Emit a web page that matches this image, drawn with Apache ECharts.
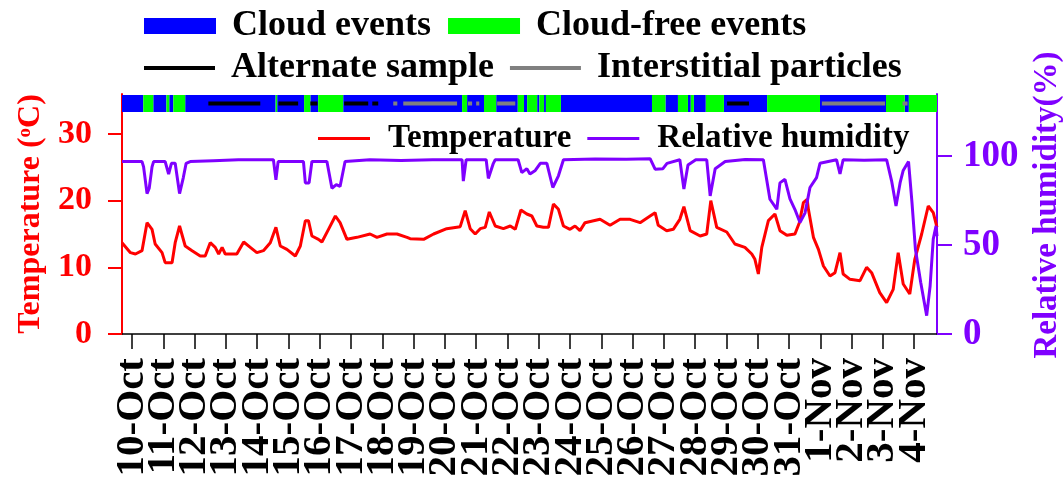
<!DOCTYPE html>
<html>
<head>
<meta charset="utf-8">
<script src="https://cdn.jsdelivr.net/npm/echarts@6/dist/echarts.min.js"></script>
<style>html,body{margin:0;padding:0;background:#fff}#c{width:1063px;height:479px}</style>
</head>
<body>
<div id="c"></div>
<script>
// Day-of-October (1-Nov = 32)
const dayTicks = [10,11,12,13,14,15,16,17,18,19,20,21,22,23,24,25,26,27,28,29,30,31,32,33,34,35];
const tickLabels = ['10-Oct','11-Oct','12-Oct','13-Oct','14-Oct','15-Oct','16-Oct','17-Oct','18-Oct','19-Oct','20-Oct','21-Oct','22-Oct','23-Oct','24-Oct','25-Oct','26-Oct','27-Oct','28-Oct','29-Oct','30-Oct','31-Oct','1-Nov','2-Nov','3-Nov','4-Nov'];
const tempTicks = [0,10,20,30];
const rhTicks = [0,50,100];

const tempTime = [9.68,9.95,10.11,10.32,10.48,10.64,10.74,10.96,11.06,11.28,
11.38,11.52,11.70,11.92,12.18,12.34,12.50,12.66,12.77,12.88,
12.98,13.35,13.57,13.78,13.99,14.20,14.42,14.60,14.74,14.95,
15.22,15.38,15.54,15.64,15.75,15.96,16.07,16.28,16.50,16.65,
16.87,17.19,17.61,17.83,18.15,18.47,18.79,18.89,19.32,19.64,
20.06,20.49,20.65,20.81,20.97,21.13,21.29,21.42,21.61,21.87,
22.09,22.25,22.43,22.62,22.78,22.94,23.15,23.31,23.47,23.63,
23.79,24.00,24.16,24.32,24.48,24.96,25.28,25.60,25.92,26.24,
26.56,26.72,26.82,27.09,27.30,27.51,27.64,27.84,28.16,28.37,
28.50,28.69,29.01,29.27,29.59,29.81,29.91,30.02,30.13,30.34,
30.55,30.71,30.93,31.19,31.33,31.46,31.58,31.62,31.78,31.94,
32.10,32.31,32.47,32.63,32.73,32.95,33.27,33.48,33.64,33.90,
34.12,34.33,34.49,34.65,34.86,35.02,35.24,35.45,35.61,35.73];
const tempValues = [13.7,12.2,12.0,12.5,16.7,15.7,13.5,12.2,10.7,10.7,
13.7,16.2,13.2,12.5,11.7,11.7,13.7,13.0,12.0,13.0,
12.0,12.0,13.8,13.0,12.2,12.5,13.7,16.0,13.2,12.7,
11.7,13.2,17.0,17.0,14.7,14.2,13.8,15.7,17.7,16.7,
14.2,14.5,15.0,14.5,15.0,15.0,14.5,14.3,14.2,15.0,
15.8,16.1,18.5,15.8,15.0,15.8,16.0,18.3,16.2,15.8,
16.2,15.7,18.6,18.0,17.7,16.2,16.0,16.0,19.5,18.7,
16.2,15.7,16.2,15.5,16.7,17.2,16.3,17.2,17.2,16.7,
17.7,18.2,16.3,15.5,15.7,17.2,19.1,15.5,14.7,15.0,
20.0,16.0,15.3,13.5,13.0,12.0,11.2,9.0,13.0,17.0,
18.0,15.5,14.8,15.0,16.7,19.7,20.2,18.7,14.5,12.7,
10.2,8.7,9.2,12.2,9.0,8.2,8.0,10.0,9.2,6.2,
4.7,6.7,12.2,7.5,6.0,11.2,15.0,19.2,18.2,16.0];

const rhTime = [9.68,10.32,10.37,10.48,10.55,10.64,10.69,11.06,11.17,11.26,
11.38,11.52,11.64,11.73,11.86,12.60,13.40,14.52,14.60,14.67,15.48,15.54,
15.66,15.75,16.23,16.39,16.53,16.65,16.81,17.60,18.60,19.60,20.55,20.59,20.68,
21.32,21.39,21.55,21.61,22.34,22.46,22.62,22.72,22.89,23.05,
23.26,23.45,23.63,23.79,24.80,25.80,26.56,26.72,26.97,27.10,27.51,27.64,
27.77,28.02,28.37,28.48,28.64,28.96,29.60,30.18,30.39,30.61,30.71,
30.87,31.03,31.19,31.35,31.51,31.67,31.88,31.99,32.52,32.63,
32.73,33.40,34.12,34.28,34.42,34.55,34.65,34.82,34.93,35.04,35.21,
35.40,35.51,35.61,35.70,35.73];
const rhValues = [97,97,94,79,82,94,97,97,90,96,
96,79,88,96,97,97.5,98,98,86.7,97,97,85,
85,97,97,82,84,83,97,98,97.6,98,98,86,98,
98,87.5,96,98,98,90.8,93,90,92,96,
96,82.4,89,98,98.5,98.3,98.6,92.7,93,96,98,81.5,
95,98,98,77.7,93,97,98.2,98,75.8,70.2,85,
87,76,70,62.7,68,82.4,88,96,98,90,
98,97.8,98,86,72,85,92,97,74,47.7,29,
10.3,27,53.4,60.8,55];

const cloudEvents = [[9.68,10.36],[10.68,11.10],[11.19,11.32],[11.70,14.59],[14.64,15.50],[15.70,15.95],[16.75,20.55],[20.71,21.25],[21.64,22.33],[22.53,22.63],[22.95,23.02],[23.17,23.23],[23.71,26.62],[27.05,27.45],[27.77,27.86],[27.96,28.34],[28.92,30.30],[31.99,34.10],[34.70,34.83]];
const cloudFreeEvents = [[10.36,10.68],[11.10,11.19],[11.32,11.70],[14.59,14.64],[15.50,15.70],[15.95,16.75],[20.55,20.71],[21.25,21.64],[22.33,22.53],[22.63,22.95],[23.02,23.17],[23.23,23.71],[26.62,27.05],[27.45,27.77],[27.86,27.96],[28.34,28.92],[30.30,31.99],[34.10,34.70],[34.83,35.73]];
const alternateSample = [[12.44,14.10],[14.68,15.31],[15.70,15.93],[16.78,17.55],[17.68,17.87],[29.02,29.72]];
const interstitialParticles = [[18.35,18.48],[18.67,20.39],[20.74,20.87],[21.00,21.10],[21.67,22.25],[32.05,34.07],[34.63,34.79]];

const X_MIN = 9.68, X_MAX = 35.73;
const FONT = 'Liberation Serif';
const RED = '#FF0000', PURPLE = '#7F00FF', BLUE = '#0000FF', GREEN = '#00FF00', GRAY = '#808080';

const zip = (a, b) => a.map((v, i) => [v, b[i]]);
// split tick labels over two label-only axes so that neighbouring rotated labels never get hidden
const evenDays = dayTicks.filter((d, i) => i % 2 === 0);
const oddDays = dayTicks.filter((d, i) => i % 2 === 1);
const dayLabel = v => tickLabels[dayTicks.indexOf(Math.round(v))];

function bandRender(color) {
  return function (params, api) {
    const p0 = api.coord([api.value(0), 1]);
    const p1 = api.coord([api.value(1), 0]);
    return { type: 'rect', shape: { x: p0[0], y: p0[1], width: p1[0] - p0[0], height: p1[1] - p0[1] }, style: { fill: color } };
  };
}
function stripRender(color) {
  return function (params, api) {
    const p0 = api.coord([api.value(0), 0.5]);
    const p1 = api.coord([api.value(1), 0.5]);
    return { type: 'rect', shape: { x: p0[0], y: p0[1] - 2, width: p1[0] - p0[0], height: 4 }, style: { fill: color } };
  };
}

const xLabelStyle = { rotate: 90, margin: 24, fontSize: 41, fontFamily: FONT, fontWeight: 'bold', color: '#000',
  showMinLabel: true, showMaxLabel: true, hideOverlap: false, formatter: dayLabel };

const chart = echarts.init(document.getElementById('c'), null, { renderer: 'canvas' });
const legendText = { fontFamily: FONT, fontWeight: 'bold', color: '#000' };
chart.setOption({
  animation: false,
  backgroundColor: '#fff',
  grid: [
    { left: 122, right: 126, top: 94, bottom: 145, outerBoundsMode: 'none', containLabel: false },
    { left: 122, right: 126, top: 95, height: 17, outerBoundsMode: 'none', containLabel: false }
  ],
  legend: [
    { left: 144, top: 8, padding: 0, itemWidth: 72, itemHeight: 16, itemGap: 17, selectedMode: false,
      textStyle: Object.assign({ fontSize: 36, padding: [0, 0, 0, 11] }, legendText),
      data: [{ name: 'Cloud events', icon: 'rect' }, { name: 'Cloud-free events', icon: 'rect' }] },
    { left: 144, top: 50, padding: 0, itemWidth: 71, itemHeight: 4, itemGap: 16, selectedMode: false,
      textStyle: Object.assign({ fontSize: 36, padding: [0, 0, 0, 11] }, legendText),
      data: [{ name: 'Alternate sample', icon: 'rect' }, { name: 'Interstitial particles', icon: 'rect' }] },
    { left: 318, top: 122, padding: 0, itemWidth: 52, itemHeight: 3, itemGap: 16, selectedMode: false,
      textStyle: Object.assign({ fontSize: 33, padding: [0, 0, 0, 13] }, legendText),
      data: [{ name: 'Temperature', icon: 'rect' }, { name: 'Relative humidity', icon: 'rect' }] }
  ],
  xAxis: [
    { type: 'value', gridIndex: 0, min: X_MIN, max: X_MAX, position: 'bottom',
      axisLine: { show: true, onZero: false, lineStyle: { color: '#000', width: 1.5 } },
      axisTick: { show: true, customValues: dayTicks, length: 15, lineStyle: { color: '#000', width: 1.5 } },
      axisLabel: Object.assign({ customValues: evenDays }, xLabelStyle),
      splitLine: { show: false } },
    { type: 'value', gridIndex: 1, min: X_MIN, max: X_MAX, show: false },
    { type: 'value', gridIndex: 0, min: X_MIN, max: X_MAX, position: 'bottom', offset: 0,
      axisLine: { show: false, onZero: false }, axisTick: { show: false },
      axisLabel: Object.assign({ customValues: oddDays }, xLabelStyle),
      splitLine: { show: false } }
  ],
  yAxis: [
    { type: 'value', gridIndex: 0, position: 'left', min: 0, max: 36,
      axisLine: { show: true, lineStyle: { color: RED, width: 2 } },
      axisTick: { show: true, customValues: tempTicks, length: 14, lineStyle: { color: RED, width: 2 } },
      axisLabel: { customValues: tempTicks, margin: 30, fontSize: 34, fontFamily: FONT, fontWeight: 'bold', color: RED },
      splitLine: { show: false },
      name: 'Temperature ({sup|o}C)', nameLocation: 'middle', nameRotate: 90, nameGap: 66,
      nameTextStyle: { fontSize: 32, fontFamily: FONT, fontWeight: 'bold', color: RED,
        rich: { sup: { fontSize: 19, fontFamily: FONT, fontWeight: 'bold', color: RED, verticalAlign: 'top', padding: [0, 0, 12, 0] } } } },
    { type: 'value', gridIndex: 0, position: 'right', min: 0, max: 135,
      axisLine: { show: true, lineStyle: { color: PURPLE, width: 2 } },
      axisTick: { show: true, customValues: rhTicks, length: 15, lineStyle: { color: PURPLE, width: 2 } },
      axisLabel: { customValues: rhTicks, margin: 26, fontSize: 37, fontFamily: FONT, fontWeight: 'bold', color: PURPLE },
      splitLine: { show: false },
      name: 'Relative humidity(%)', nameLocation: 'middle', nameRotate: 90, nameGap: 94,
      nameTextStyle: { fontSize: 33, fontFamily: FONT, fontWeight: 'bold', color: PURPLE, padding: [0, 0, 0, 18] } },
    { type: 'value', gridIndex: 1, min: 0, max: 1, show: false }
  ],
  series: [
    { name: 'Cloud events', type: 'custom', xAxisIndex: 1, yAxisIndex: 2, itemStyle: { color: BLUE },
      renderItem: bandRender(BLUE), encode: { x: [0, 1] }, data: cloudEvents, silent: true },
    { name: 'Cloud-free events', type: 'custom', xAxisIndex: 1, yAxisIndex: 2, itemStyle: { color: GREEN },
      renderItem: bandRender(GREEN), encode: { x: [0, 1] }, data: cloudFreeEvents, silent: true },
    { name: 'Alternate sample', type: 'custom', xAxisIndex: 1, yAxisIndex: 2, itemStyle: { color: '#000' }, z: 5,
      renderItem: stripRender('#000'), encode: { x: [0, 1] }, data: alternateSample, silent: true },
    { name: 'Interstitial particles', type: 'custom', xAxisIndex: 1, yAxisIndex: 2, itemStyle: { color: GRAY }, z: 5,
      renderItem: stripRender(GRAY), encode: { x: [0, 1] }, data: interstitialParticles, silent: true },
    { name: 'Temperature', type: 'line', xAxisIndex: 0, yAxisIndex: 0, symbol: 'none', color: RED,
      itemStyle: { color: RED }, lineStyle: { color: RED, width: 3 }, data: zip(tempTime, tempValues) },
    { name: 'Relative humidity', type: 'line', xAxisIndex: 0, yAxisIndex: 1, symbol: 'none', color: PURPLE,
      itemStyle: { color: PURPLE }, lineStyle: { color: PURPLE, width: 3 }, data: zip(rhTime, rhValues) }
  ]
});
</script>
</body>
</html>
